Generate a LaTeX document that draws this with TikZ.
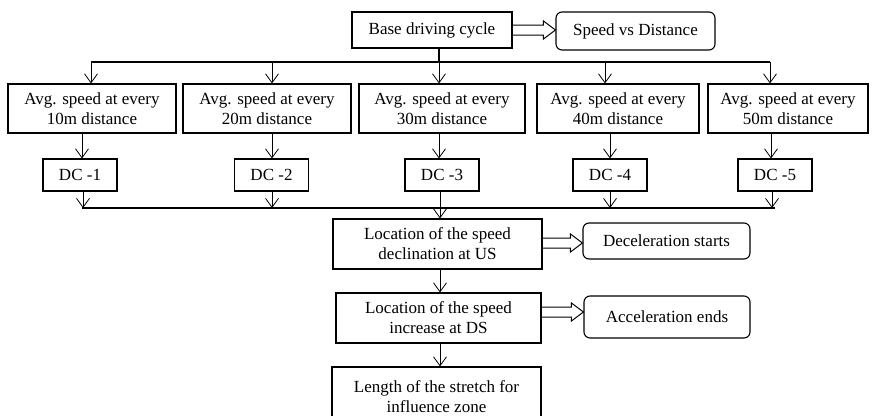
\documentclass[tikz,border=0pt]{standalone}
\usepackage{fontspec}
\setmainfont{Liberation Serif}
\usetikzlibrary{arrows.meta,calc}

% hollow block arrow from the east side of #1 to the west side of #2 at height #3
\newcommand\hollowarr[3]{%
  \coordinate (ha) at (#1.east |- 0,#3);
  \coordinate (hb) at (#2.west |- 0,#3);
  \draw[hol] ($(ha)+(0,5)$) -- ($(hb)+(-12,5)$) -- ($(hb)+(-12,9)$) -- (hb)
    -- ($(hb)+(-12,-9)$) -- ($(hb)+(-12,-5)$) -- ($(ha)+(0,-5)$);
}

\begin{document}
\begin{tikzpicture}[x=1pt,y=-1pt,
  font=\fontsize{17}{20}\selectfont,
  box/.style={draw,line width=1.1pt,align=center,inner sep=0pt,
    minimum width=#1},
  rbox/.style={box=#1,rounded corners=6pt},
  avg/.style={box=#1,minimum height=49pt},
  dcbox/.style={box=74pt,minimum height=32pt},
  con/.style={line width=0.8pt,-{Straight Barb[length=9pt,width=13pt,line width=0.8pt]}},
  bus/.style={line width=2pt},
  hol/.style={line width=1pt,line join=miter}]
\clip (0,0) rectangle (872,415);
\fill[white] (0,0) rectangle (872,415);

% top of the chart
\node[box=160pt,minimum height=36pt] (base) at (432,30) {Base driving cycle};
\node[rbox=159pt,minimum height=38pt] (svd) at (635.5,31) {Speed vs Distance};
\hollowarr{base}{svd}{30}

% averaging boxes
\node[avg=168pt] (a1) at (92,108.5) {Avg. speed at every\\10m distance};
\node[avg=168pt] (a2) at (267,108.5) {Avg. speed at every\\20m distance};
\node[avg=166pt] (a3) at (442,108.5) {Avg. speed at every\\30m distance};
\node[avg=162pt] (a4) at (618,108.5) {Avg. speed at every\\40m distance};
\node[avg=160pt] (a5) at (788,108.5) {Avg. speed at every\\50m distance};

% driving cycles
\node[dcbox] (d1) at (80,175) {DC -1};
\node[dcbox] (d2) at (271.5,175) {DC -2};
\node[dcbox] (d3) at (442,175) {DC -3};
\node[dcbox] (d4) at (610,175) {DC -4};
\node[dcbox] (d5) at (775,175) {DC -5};

% distribution bus
\coordinate (tb0) at (439,62);
\coordinate (tb1) at (91,62);
\coordinate (tb2) at (272,62);
\coordinate (tb3) at (439,62);
\coordinate (tb4) at (605,62);
\coordinate (tb5) at (770,62);
\draw[bus] (base.south -| tb0) -- (tb0);
\draw[bus] (tb1) -- (tb5);
\foreach \i in {1,...,5} \draw[con] (tb\i) -- (tb\i |- a\i.north);

% averaging boxes to driving cycles
\foreach \i/\xx in {1/82,2/272,3/439,4/610,5/771}
  \draw[con] (a\i.south -| \xx,0) -- (d\i.north -| \xx,0);

% lower analysis chain
\node[box=209pt,minimum height=50pt] (l1) at (437.5,244) {Location of the speed\\declination at US};
\node[rbox=167pt,minimum height=36pt] (r1) at (666.5,241) {Deceleration starts};
\node[box=205pt,minimum height=50pt] (l2) at (438.5,318) {Location of the speed\\increase at DS};
\node[rbox=166pt,minimum height=42pt] (r2) at (667,317) {Acceleration ends};
\node[box=209pt,minimum height=60pt] (l3) at (436.5,397) {Length of the stretch for\\influence zone};

% collecting bus
\coordinate (bb1) at (82,208);
\coordinate (bb5) at (775,208);
\draw[bus] (bb1) -- (bb5);
\foreach \i/\xx in {1/83,2/272,4/610,5/772}
  \draw[con] (d\i.south -| \xx,0) -- (bb1 -| \xx,0);
\draw[con] (d3.south -| 440,0) -- (l1.north -| 440,0);

\draw[con] (l1.south -| 440,0) -- (l2.north -| 440,0);
\draw[con] (l2.south -| 440,0) -- (l3.north -| 440,0);

\hollowarr{l1}{r1}{243}
\hollowarr{l2}{r2}{312}
\end{tikzpicture}
\end{document}
